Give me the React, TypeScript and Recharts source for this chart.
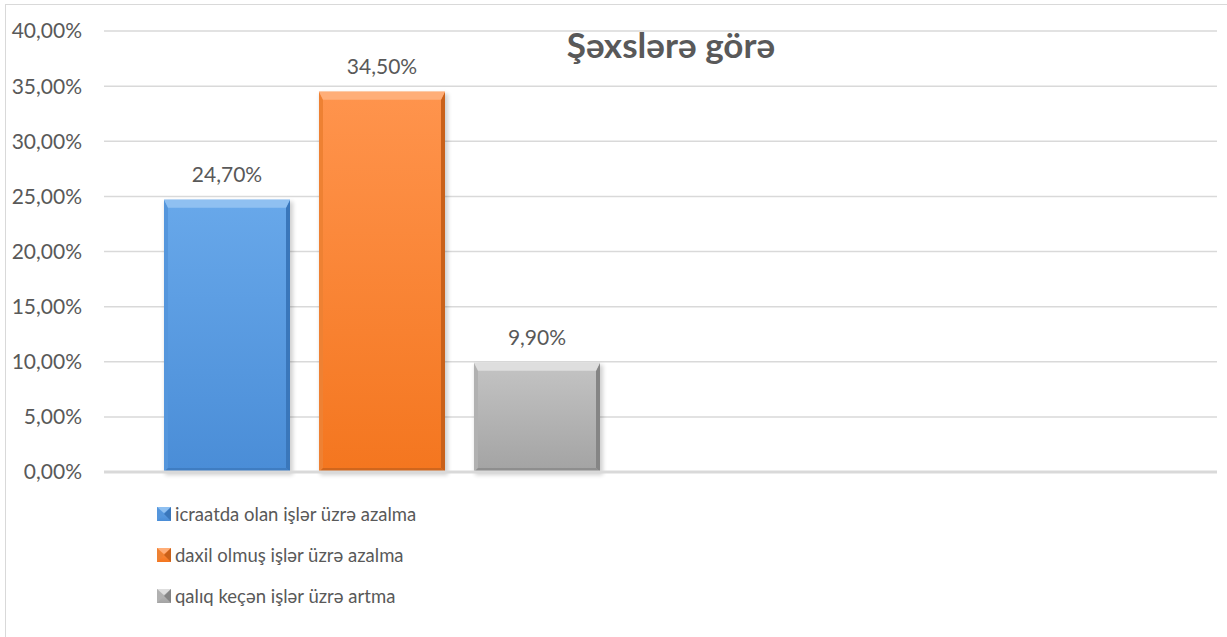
import React from 'react';
import { BarChart, Bar, XAxis, YAxis, CartesianGrid, LabelList, Legend, ReferenceLine } from 'recharts';

const categories = ['Şəxslərə görə', ''];
const seriesNames = ['icraatda olan işlər üzrə azalma', 'daxil olmuş işlər üzrə azalma', 'qalıq keçən işlər üzrə artma'];
const icraatda = [24.7, null];
const daxil = [34.5, null];
const qaliq = [9.9, null];
const yTicks = [0, 5, 10, 15, 20, 25, 30, 35, 40];

const data = categories.map((name, i) => ({ name, s1: icraatda[i], s2: daxil[i], s3: qaliq[i] }));

const FONT = 'Lato, "Noto Sans", sans-serif';
const TEXT = '#595959';

type Pal = { key: string; top: string; bottom: string; hi: string; left: string; right: string; base: string };
const palettes: Pal[] = [
  { key: 'b', top: '#68a8ea', bottom: '#4a8dd7', hi: '#8fc0f1', left: '#5596dc', right: '#3a77bb', base: '#3f7dc2' },
  { key: 'o', top: '#ff944d', bottom: '#f4761f', hi: '#ffae78', left: '#ee8133', right: '#c9611a', base: '#d0661d' },
  { key: 'g', top: '#c4c4c4', bottom: '#a3a3a3', hi: '#dedede', left: '#b1b1b1', right: '#858585', base: '#8e8e8e' },
];

const fmt = (v: any) => (v === null || v === undefined ? '' : Number(v).toFixed(2).replace('.', ',') + '%');

function makeBevel(c: Pal) {
  return (props: any) => {
    const { x, y, width: w, height: h } = props;
    if (!h || h <= 0 || !w) return <g />;
    const t = Math.min(8, h / 3);
    const s = 4;
    const bb = Math.min(4, h / 4);
    const id = 'bev' + c.key;
    return (
      <g>
        <defs>
          <linearGradient id={id + 'm'} x1="0" y1="0" x2="0" y2="1">
            <stop offset="0" stopColor={c.top} />
            <stop offset="1" stopColor={c.bottom} />
          </linearGradient>
          <filter id={id + 'f'} x="-20%" y="-20%" width="140%" height="140%">
            <feGaussianBlur stdDeviation="2" />
          </filter>
        </defs>
        <rect x={x + 1} y={y + 2} width={w + 2} height={h + 1} fill="#000" opacity={0.18} filter={`url(#${id}f)`} />
        <rect x={x} y={y} width={w} height={h} fill={`url(#${id}m)`} />
        <polygon points={`${x},${y} ${x + s},${y + t} ${x + s},${y + h - bb} ${x},${y + h}`} fill={c.left} />
        <polygon points={`${x + w},${y} ${x + w - s},${y + t} ${x + w - s},${y + h - bb} ${x + w},${y + h}`} fill={c.right} />
        <polygon points={`${x},${y + h} ${x + w},${y + h} ${x + w - s},${y + h - bb} ${x + s},${y + h - bb}`} fill={c.base} />
        <polygon points={`${x},${y} ${x + w},${y} ${x + w - s},${y + t} ${x + s},${y + t}`} fill={c.hi} />
      </g>
    );
  };
}

const shapes = palettes.map(makeBevel);

function LegendIcon({ c }: { c: Pal }) {
  const id = 'li' + c.key;
  return (
    <svg width={14} height={14} style={{ display: 'block', flex: '0 0 auto' }}>
      <defs>
        <linearGradient id={id} x1="0" y1="0" x2="0" y2="1">
          <stop offset="0" stopColor={c.top} />
          <stop offset="1" stopColor={c.bottom} />
        </linearGradient>
      </defs>
      <rect x={0} y={0} width={14} height={14} fill={`url(#${id})`} />
      <polygon points="0,0 14,0 7,6" fill={c.hi} />
      <polygon points="0,0 7,7 0,14" fill={c.left} />
      <polygon points="14,0 7,7 14,14" fill={c.right} />
    </svg>
  );
}

const renderLegend = () => (
  <div style={{ position: 'relative', height: 0 }}>
    {seriesNames.map((name, i) => (
      <div
        key={i}
        style={{
          position: 'absolute',
          left: 0,
          top: i * 41,
          height: 24,
          display: 'flex',
          alignItems: 'center',
          whiteSpace: 'nowrap',
        }}
      >
        <LegendIcon c={palettes[i]} />
        <span style={{ marginLeft: 4, fontFamily: FONT, fontSize: 18.5, color: TEXT }}>{name}</span>
      </div>
    ))}
  </div>
);

export default function App() {
  return (
    <div style={{ position: 'absolute', left: 0, top: 0, width: 1227, height: 637, overflow: 'hidden', background: '#fff' }}>
      <div style={{ position: 'absolute', left: 5, top: 4, width: 1300, height: 700, border: '1.5px solid #d9d9d9', boxSizing: 'border-box' }} />
      <BarChart
        width={1227}
        height={637}
        data={data}
        margin={{ top: 31, right: 10, bottom: 165, left: 0 }}
        barCategoryGap={60}
        barGap={29}
      >
        <CartesianGrid vertical={false} stroke="#d9d9d9" strokeWidth={1.5} />
        <XAxis dataKey="name" hide />
        <YAxis
          width={104}
          domain={[0, 40]}
          ticks={yTicks}
          interval={0}
          tickLine={false}
          axisLine={false}
          tickMargin={16}
          tickFormatter={fmt}
          tick={{ fill: TEXT, fontSize: 21, fontFamily: FONT }}
        />
        <ReferenceLine y={0} stroke="#d9d9d9" strokeWidth={3} />
        <Legend
          content={renderLegend}
          wrapperStyle={{ left: 157, top: 502, width: 400, height: 0 }}
        />
        {['s1', 's2', 's3'].map((k, i) => (
          <Bar key={k} dataKey={k} name={seriesNames[i]} fill={palettes[i].bottom} shape={shapes[i]} isAnimationActive={false}>
            <LabelList dataKey={k} position="top" offset={18} formatter={fmt} style={{ fill: TEXT, fontSize: 21, fontFamily: FONT }} />
          </Bar>
        ))}
      </BarChart>
      <div
        style={{
          position: 'absolute',
          left: 471,
          width: 400,
          top: 23,
          textAlign: 'center',
          fontFamily: FONT,
          fontWeight: 700,
          fontSize: 35,
          color: TEXT,
          whiteSpace: 'nowrap',
        }}
      >
        {categories[0]}
      </div>
    </div>
  );
}
